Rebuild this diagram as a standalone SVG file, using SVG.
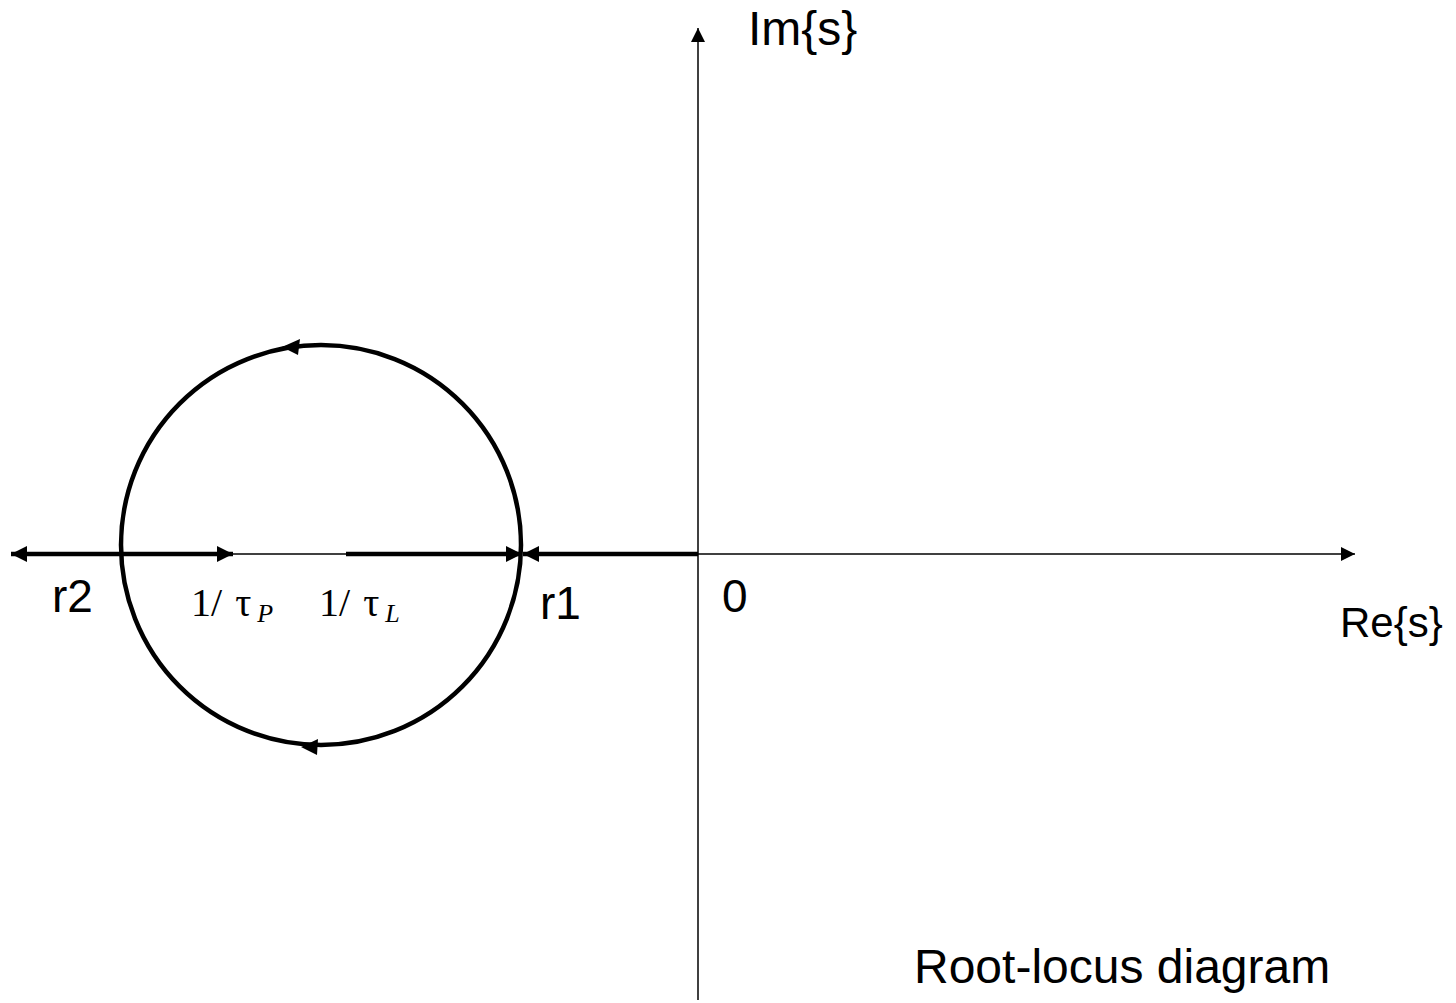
<svg xmlns="http://www.w3.org/2000/svg" width="1456" height="1003" viewBox="0 0 1456 1003">
<defs>
<marker id="ah" viewBox="0 0 10 10" refX="10" refY="5" markerWidth="16" markerHeight="16" markerUnits="userSpaceOnUse" orient="auto-start-reverse"><path d="M0,0 L10,5 L0,10 Z" fill="#000"/></marker>
<marker id="ahs" viewBox="0 0 10 10" refX="10" refY="5" markerWidth="14" markerHeight="14" markerUnits="userSpaceOnUse" orient="auto"><path d="M0,0 L10,5 L0,10 Z" fill="#000"/></marker>
</defs>
<style>
.lab{font-family:"Liberation Sans",Arial,sans-serif;font-size:46px;fill:#000}
.math{font-family:"Liberation Serif","Times New Roman",serif;font-size:40px;fill:#000}
.thin{stroke:#000;stroke-width:1.5;fill:none}
.thick{stroke:#000;stroke-width:4.5;fill:none}
</style>
<rect width="1456" height="1003" fill="#fff"/>
<g id="connectors">
<line class="thin" x1="698" y1="1000" x2="698" y2="28" marker-end="url(#ahs)"/>
<line class="thin" x1="698" y1="554" x2="1355" y2="554" marker-end="url(#ahs)"/>
<line class="thin" x1="230" y1="554" x2="350" y2="554"/>
<line class="thick" x1="11" y1="554" x2="233" y2="554" marker-start="url(#ah)" marker-end="url(#ah)"/>
<line class="thick" x1="346" y1="554" x2="522" y2="554" marker-end="url(#ah)"/>
<line class="thick" x1="698" y1="554" x2="523" y2="554" marker-end="url(#ah)"/>
<circle class="thick" cx="321" cy="545" r="200"/>
<path d="M282,347 L300,339 L298,355 Z" fill="#000"/>
<path d="M301,747 L318,739 L317,755 Z" fill="#000"/>
</g>
<g id="labels">
<text class="lab" x="748" y="45" style="font-size:48px">Im{s}</text>
<text class="lab" x="1340" y="637" style="font-size:42px">Re{s}</text>
<text class="lab" x="52" y="612">r2</text>
<text class="lab" x="540" y="619">r1</text>
<text class="lab" x="722" y="612">0</text>
<text class="lab" x="914" y="983" style="font-size:48px">Root-locus diagram</text>
<text class="math" x="191" y="616">1/ <tspan dx="3">τ</tspan><tspan font-size="26" font-style="italic" dy="6" dx="6">P</tspan></text>
<text class="math" x="319" y="616">1/ <tspan dx="3">τ</tspan><tspan font-size="26" font-style="italic" dy="6" dx="6">L</tspan></text>
</g>
</svg>
